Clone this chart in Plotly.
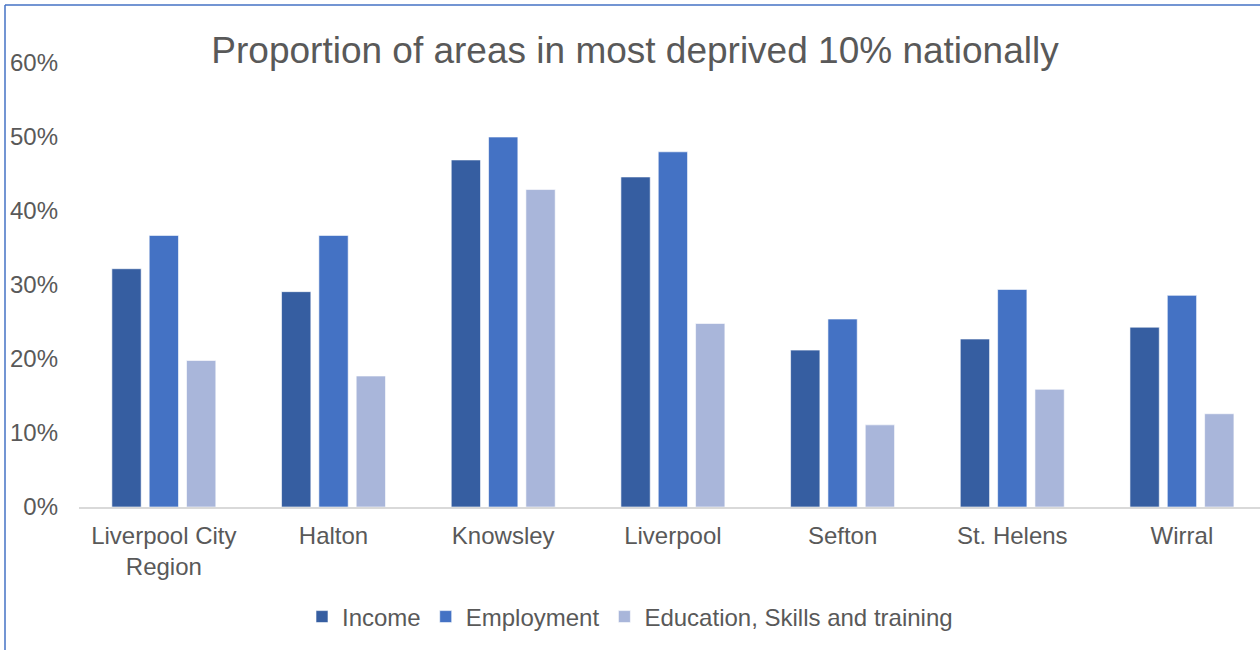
import plotly.graph_objects as go

# Share of neighbourhoods in the most deprived 10% nationally, by domain
areas = ["Liverpool City<br>Region", "Halton", "Knowsley", "Liverpool", "Sefton", "St. Helens", "Wirral"]
income = [0.322, 0.291, 0.469, 0.446, 0.212, 0.227, 0.243]
employment = [0.367, 0.367, 0.500, 0.480, 0.254, 0.294, 0.286]
education = [0.198, 0.177, 0.429, 0.248, 0.111, 0.159, 0.126]

series = [
    ("Income", income, "#365EA1"),
    ("Employment", employment, "#4472C4"),
    ("Education, Skills and training", education, "#A9B6DA"),
]

FONT = "Arial, Liberation Sans, sans-serif"
GREY = "#595959"

W, H = 1260, 650
ML, MR, MT, MB = 79, 0, 63, 143
plot_w = W - ML - MR
plot_h = H - MT - MB

fig = go.Figure()
for name, vals, col in series:
    fig.add_trace(go.Bar(
        x=areas, y=vals, name=name,
        marker=dict(color=col, line=dict(color="rgba(255,255,255,0.6)", width=1)),
    ))

# frame border (top and left edges of the chart box)
def px_to_paper_x(px):
    return (px - ML) / plot_w

def px_to_paper_y(py):
    return (H - MB - py) / plot_h

border = dict(color="#4472C4", width=1.5)
shapes = [
    dict(type="line", xref="paper", yref="paper",
         x0=px_to_paper_x(5), x1=px_to_paper_x(W + 5),
         y0=px_to_paper_y(5), y1=px_to_paper_y(5), line=border),
    dict(type="line", xref="paper", yref="paper",
         x0=px_to_paper_x(5), x1=px_to_paper_x(5),
         y0=px_to_paper_y(5), y1=px_to_paper_y(H + 5), line=border),
]

fig.update_layout(
    width=W, height=H,
    margin=dict(l=ML, r=MR, t=MT, b=MB),
    paper_bgcolor="white", plot_bgcolor="white",
    barmode="group", bargap=0.34, bargroupgap=0.215,
    font=dict(family=FONT, size=24, color=GREY),
    title=dict(text="Proportion of areas in most deprived 10% nationally",
               x=0.504, xref="container", xanchor="center",
               y=1 - 50 / H, yref="container", yanchor="middle",
               font=dict(family=FONT, size=37, color=GREY)),
    legend=dict(orientation="h", x=px_to_paper_x(630), xanchor="center",
                y=px_to_paper_y(617), yanchor="middle",
                font=dict(family=FONT, size=24, color=GREY),
                itemwidth=30, tracegroupgap=0),
    shapes=shapes,
    showlegend=True,
)
fig.update_xaxes(range=[-0.5, 6.46], showgrid=False, showline=True,
                 linecolor="#D9D9D9", linewidth=2, ticks="", ticklabelstandoff=6,
                 tickfont=dict(family=FONT, size=24, color=GREY))
fig.update_yaxes(range=[0, 0.6], dtick=0.1, tickformat=".0%", showgrid=False,
                 zeroline=False, showline=False, ticks="", ticklabelstandoff=20,
                 tickfont=dict(family=FONT, size=24, color=GREY))

fig.write_html("out.html")
